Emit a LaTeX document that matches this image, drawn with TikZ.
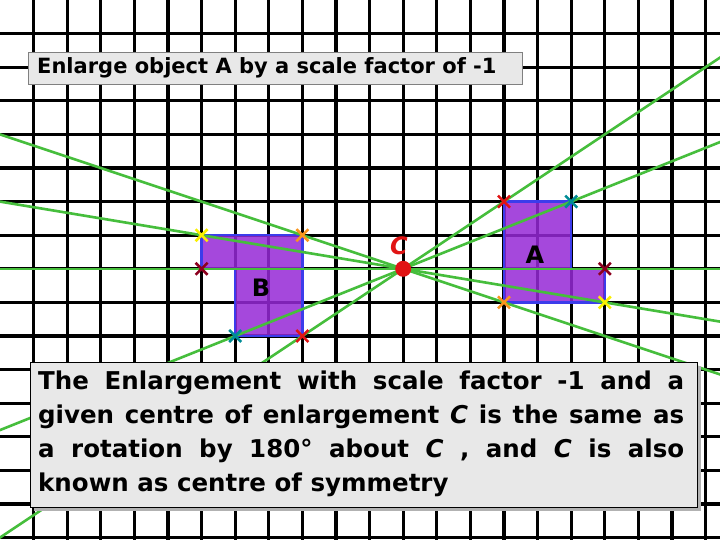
\documentclass[tikz,border=0pt]{standalone}
\usepackage{fontspec}
\setmainfont{DejaVu Sans}
\usetikzlibrary{calc}
\begin{document}
\begin{tikzpicture}[x=1pt,y=-1pt,
  gridln/.style={line width=3.2pt,black},
  xmark/.style={line width=2.6pt},
  shp/.style={fill={rgb,255:red,150;green,40;blue,215},fill opacity=0.85,draw={rgb,255:red,60;green,60;blue,235},line width=2.5pt}]
\definecolor{rayg}{RGB}{70,190,60}
\definecolor{xteal}{RGB}{0,140,150}
\definecolor{xdred}{RGB}{140,0,30}
\definecolor{xyel}{RGB}{250,240,0}
\definecolor{xora}{RGB}{250,150,30}
\definecolor{xred}{RGB}{225,20,20}
\useasboundingbox (0,0) rectangle (720,540);
\fill[white] (0,0) rectangle (720,540);
\def\s{33.6}
\foreach \k in {1,...,21} \draw[gridln] (\k*\s,0) -- (\k*\s,540);
\foreach \k in {1,...,16} \draw[gridln] (0,\k*\s) -- (720,\k*\s);
% shapes
\draw[shp] (15*\s,6*\s) -- (17*\s,6*\s) -- (17*\s,8*\s) -- (18*\s,8*\s) -- (18*\s,9*\s) -- (15*\s,9*\s) -- cycle;
\draw[shp] (9*\s,10*\s) -- (7*\s,10*\s) -- (7*\s,8*\s) -- (6*\s,8*\s) -- (6*\s,7*\s) -- (9*\s,7*\s) -- cycle;
\coordinate (C) at (12*\s,8*\s);
\begin{scope}
\clip (0,0) rectangle (720,540);
\foreach \dx/\dy in {3/-2,5/-2,6/0,6/1,3/1}
  \draw[line width=2.6pt,rayg] ($(C)+(-6*\dx*\s,-6*\dy*\s)$) -- ($(C)+(6*\dx*\s,6*\dy*\s)$);
\end{scope}
\fill[xred] (C) circle (8);
\node[text=xred,font=\bfseries\itshape\fontsize{24}{24}\selectfont] (cl) at (399,246) {C};
\node[font=\bfseries\fontsize{24}{24}\selectfont] (al) at (535,255) {A};
\node[font=\bfseries\fontsize{24}{24}\selectfont] (bl) at (261,288) {B};
\foreach \px/\py/\c in {15/6/xred,17/6/xteal,18/8/xdred,18/9/xyel,15/9/xora,9/10/xred,7/10/xteal,6/8/xdred,6/7/xyel,9/7/xora}
  \draw[xmark,\c] (\px*\s-6,\py*\s-6) -- (\px*\s+6,\py*\s+6) (\px*\s-6,\py*\s+6) -- (\px*\s+6,\py*\s-6);
\node[draw=gray,fill={rgb,255:red,232;green,232;blue,232},line width=0.8pt,anchor=north west,minimum width=494,minimum height=32,inner sep=0pt] (title) at (28,52) {};
\node[anchor=west,inner sep=0pt,font=\bfseries\fontsize{21}{22}\selectfont] (titletext) at (37,68) {Enlarge object A by a scale factor of -1};
\fill[gray!60] (34,366) rectangle (701,511);
\node[draw=black,fill={rgb,255:red,232;green,232;blue,232},line width=1pt,anchor=north west,minimum width=667,minimum height=145,inner sep=0pt] (boxr) at (30,362) {};
\node[anchor=north west,text width=646,align=justify,inner sep=0pt,font=\bfseries\fontsize{24.5}{34}\selectfont] (body) at (38,371) {The Enlargement with scale factor -1 and a\linebreak given centre of enlargement \textit{C} is the same as\linebreak a rotation by 180° about \textit{C} , and \textit{C} is also\linebreak known as centre of symmetry};
\end{tikzpicture}
\end{document}
